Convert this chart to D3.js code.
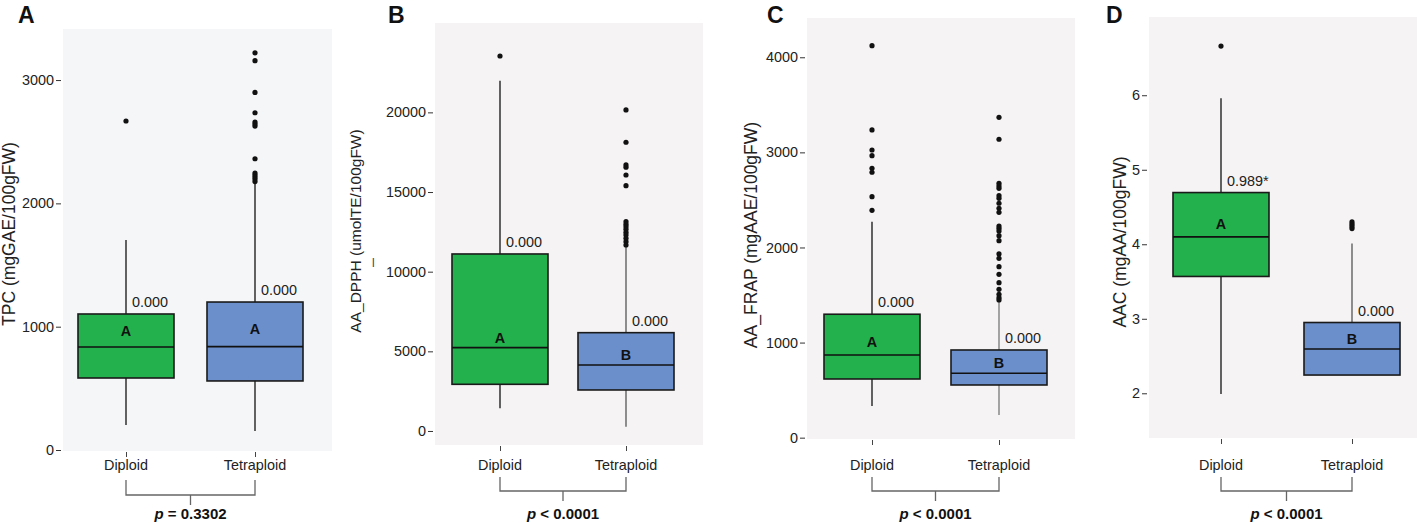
<!DOCTYPE html>
<html>
<head>
<meta charset="utf-8">
<script src="https://cdn.jsdelivr.net/npm/d3@7"></script>
<style>
  body { margin: 0; background: #fff; }
  svg { font-family: Arial, "Liberation Sans", sans-serif; }
</style>
</head>
<body>
<div id="chart"></div>
<script>
// groups shared by all four panels
const groups = ["Diploid", "Tetraploid"];

// box stats: [whisker low, Q1, median, Q3, whisker high]
const tpcBoxes = [[203, 584, 835, 1103, 1703], [154, 560, 838, 1200, 2170]];
const tpcOutliers = [[2668], [3221, 3157, 2900, 2735, 2660, 2643, 2627, 2362, 2246, 2230, 2214, 2197, 2177]];
const tpcMeans = [965, 981];
const tpcLetters = ["A", "A"];
const tpcTopLabels = ["0.000", "0.000"];
const tpcTicks = [0, 1000, 2000, 3000];

const dpphBoxes = [[1425, 2930, 5230, 11111, 21990], [270, 2574, 4143, 6171, 11600]];
const dpphOutliers = [[23540], [20151, 18123, 16698, 16554, 16070, 15399, 13139, 12976, 12825, 12662, 12473, 12304, 12097, 11883, 11676]];
const dpphMeans = [5838, 4771];
const dpphLetters = ["A", "B"];
const dpphTopLabels = ["0.000", "0.000"];
const dpphTicks = [0, 5000, 10000, 15000, 20000];

const frapBoxes = [[333, 617, 870, 1298, 2271], [239, 554, 677, 922, 1440]];
const frapOutliers = [[4122, 3236, 3025, 2965, 2833, 2791, 2534, 2391],
  [3369, 3138, 2675, 2647, 2622, 2545, 2517, 2465, 2412, 2370, 2226, 2202, 2174, 2124, 2072, 1932, 1886, 1798, 1718, 1630, 1560, 1508, 1472, 1448]];
const frapMeans = [1009, 782];
const frapLetters = ["A", "B"];
const frapTopLabels = ["0.000", "0.000"];
const frapTicks = [0, 1000, 2000, 3000, 4000];

const aacBoxes = [[1.99, 3.568, 4.099, 4.694, 5.96], [2.245, 2.245, 2.594, 2.95, 4.01]];
const aacOutliers = [[6.66], [4.30, 4.27, 4.24, 4.21]];
const aacMeans = [4.27, 2.73];
const aacLetters = ["A", "B"];
const aacTopLabels = ["0.989*", "0.000"];
const aacTicks = [2, 3, 4, 5, 6];

const panelTags = ["A", "B", "C", "D"];
const yTitles = ["TPC (mgGAE/100gFW)", "AA_DPPH (umolTE/100gFW)", "AA_FRAP (mgAAE/100gFW)", "AAC (mgAA/100gFW)"];
const pValues = [" = 0.3302", " < 0.0001", " < 0.0001", " < 0.0001"];

const fills = ["#22b14c", "#6a8fcb"];

// layout per panel (plot area, category centres, y domain)
const panels = [
  { boxes: tpcBoxes, outliers: tpcOutliers, means: tpcMeans, letters: tpcLetters, tops: tpcTopLabels, ticks: tpcTicks,
    x0: 63, x1: 332, y0: 29, y1: 451, cx: [126, 255], domain: [-8, 3414], bg: "#f5f6f8",
    tagX: 18, titleX: 15, titleY: 234, titleSize: 17.5, br: [480, 495], tetWhisker: "#111" },
  { boxes: dpphBoxes, outliers: dpphOutliers, means: dpphMeans, letters: dpphLetters, tops: dpphTopLabels, ticks: dpphTicks,
    x0: 435, x1: 703, y0: 23, y1: 445, cx: [500, 626], domain: [-880, 25610], bg: "#f6f3f4",
    tagX: 388, titleX: 361, titleY: 231, titleSize: 15.5, br: [477, 491], tetWhisker: "#555" },
  { boxes: frapBoxes, outliers: frapOutliers, means: frapMeans, letters: frapLetters, tops: frapTopLabels, ticks: frapTicks,
    x0: 807, x1: 1075, y0: 18, y1: 439, cx: [872, 999], domain: [-14, 4413], bg: "#f6f3f4",
    tagX: 767, titleX: 757, titleY: 235, titleSize: 17.5, br: [477, 491], tetWhisker: "#777" },
  { boxes: aacBoxes, outliers: aacOutliers, means: aacMeans, letters: aacLetters, tops: aacTopLabels, ticks: aacTicks,
    x0: 1149, x1: 1417, y0: 17, y1: 438, cx: [1221, 1352], domain: [1.40, 7.05], bg: "#f6f3f4",
    tagX: 1106, titleX: 1126, titleY: 242, titleSize: 17.5, br: [477, 491], tetWhisker: "#555" }
];

const W = 1417, H = 523, boxW = 96;

const svg = d3.select("#chart").append("svg")
  .attr("width", W)
  .attr("height", H);

panels.forEach((p, i) => {
  const g = svg.append("g");

  const x = d3.scalePoint().domain(groups).range(p.cx);
  const y = d3.scaleLinear().domain(p.domain).range([p.y1, p.y0]);

  // panel background
  g.append("rect")
    .attr("x", p.x0).attr("y", p.y0)
    .attr("width", p.x1 - p.x0).attr("height", p.y1 - p.y0)
    .attr("fill", p.bg);

  // y axis
  const yAxis = g.append("g")
    .attr("transform", `translate(${p.x0 - 2},0)`)
    .call(d3.axisLeft(y).tickValues(p.ticks).tickSize(5).tickPadding(2).tickFormat(d3.format("d")));
  yAxis.select(".domain").remove();
  yAxis.selectAll(".tick line").attr("stroke", "#333");
  yAxis.selectAll(".tick text").attr("font-size", 14.4).attr("fill", "#222").attr("font-family", null);

  // x axis
  const xAxis = g.append("g")
    .attr("transform", `translate(0,${p.y1 + 1})`)
    .call(d3.axisBottom(x).tickSize(5).tickPadding(0));
  xAxis.select(".domain").remove();
  xAxis.selectAll(".tick line").attr("stroke", "#444");
  xAxis.selectAll(".tick text").remove();
  g.selectAll(".xlab")
    .data(groups)
    .enter().append("text")
    .attr("x", d => x(d))
    .attr("y", 470)
    .attr("text-anchor", "middle")
    .attr("font-size", 14.4)
    .attr("fill", "#222")
    .text(d => d);

  const data = groups.map((grp, k) => ({
    grp, k, s: p.boxes[k], out: p.outliers[k], mean: p.means[k], letter: p.letters[k], top: p.tops[k]
  }));

  // whiskers
  g.selectAll(".whisk")
    .data(data)
    .enter().append("line")
    .attr("x1", d => x(d.grp)).attr("x2", d => x(d.grp))
    .attr("y1", d => y(d.s[0])).attr("y2", d => y(d.s[4]))
    .attr("stroke", d => d.k === 0 ? "#111" : p.tetWhisker)
    .attr("stroke-width", 1.3);

  // boxes
  g.selectAll(".box")
    .data(data)
    .enter().append("rect")
    .attr("x", d => x(d.grp) - boxW / 2)
    .attr("y", d => y(d.s[3]))
    .attr("width", boxW)
    .attr("height", d => y(d.s[1]) - y(d.s[3]))
    .attr("fill", d => fills[d.k])
    .attr("stroke", "#1a1a1a")
    .attr("stroke-width", 1.6);

  // medians
  g.selectAll(".med")
    .data(data)
    .enter().append("line")
    .attr("x1", d => x(d.grp) - boxW / 2).attr("x2", d => x(d.grp) + boxW / 2)
    .attr("y1", d => y(d.s[2])).attr("y2", d => y(d.s[2]))
    .attr("stroke", "#111")
    .attr("stroke-width", 1.6);

  // outliers
  data.forEach(d => {
    g.selectAll(null)
      .data(d.out)
      .enter().append("circle")
      .attr("cx", x(d.grp))
      .attr("cy", v => y(v))
      .attr("r", 2.6)
      .attr("fill", "#111");
  });

  // letters at the mean
  g.selectAll(".letter")
    .data(data)
    .enter().append("text")
    .attr("x", d => x(d.grp))
    .attr("y", d => y(d.mean))
    .attr("dy", "0.36em")
    .attr("text-anchor", "middle")
    .attr("font-size", 14.4)
    .attr("font-weight", "bold")
    .attr("fill", "#111")
    .text(d => d.letter);

  // labels above the box
  g.selectAll(".top")
    .data(data)
    .enter().append("text")
    .attr("x", d => x(d.grp) + 6)
    .attr("y", d => y(d.s[3]) - 7)
    .attr("font-size", 14.4)
    .attr("fill", "#222")
    .text(d => d.top);

  // y title
  g.append("text")
    .attr("transform", `translate(${p.titleX},${p.titleY}) rotate(-90)`)
    .attr("text-anchor", "middle")
    .attr("font-size", p.titleSize)
    .attr("fill", "#222")
    .text(yTitles[i]);

  // panel tag
  g.append("text")
    .attr("x", p.tagX)
    .attr("y", 23)
    .attr("font-size", 23)
    .attr("font-weight", "bold")
    .attr("fill", "#111")
    .text(panelTags[i]);

  // comparison bracket
  const xa = x(groups[0]), xb = x(groups[1]), xm = (xa + xb) / 2;
  g.append("path")
    .attr("d", `M${xa},${p.br[0]}V${p.br[1]}H${xb}V${p.br[0]}M${xm},${p.br[1]}V${p.br[1] + 10}`)
    .attr("fill", "none")
    .attr("stroke", "#666")
    .attr("stroke-width", 1.3);

  const pt = g.append("text")
    .attr("x", xm)
    .attr("y", 519)
    .attr("text-anchor", "middle")
    .attr("font-size", 15)
    .attr("font-weight", "bold")
    .attr("fill", "#111");
  pt.append("tspan").attr("font-style", "italic").text("p");
  pt.append("tspan").text(pValues[i]);
});

// stray mark under the DPPH title
svg.append("text")
  .attr("x", 372)
  .attr("y", 267)
  .attr("font-size", 12)
  .attr("fill", "#444")
  .text("l");
</script>
</body>
</html>
